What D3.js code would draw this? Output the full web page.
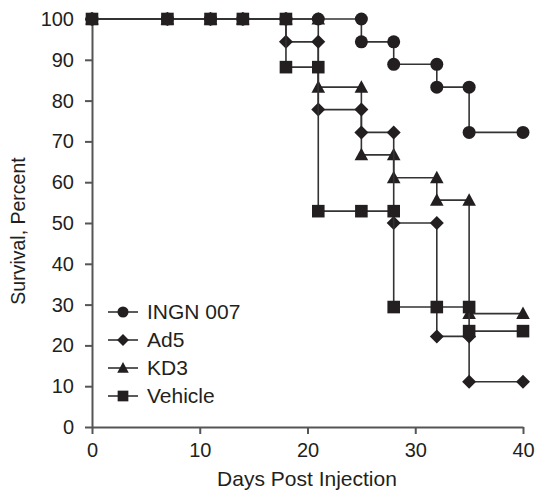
<!DOCTYPE html>
<html lang="en">
<head>
<meta charset="utf-8">
<title>Survival curves</title>
<script src="https://d3js.org/d3.v7.min.js"></script>
<style>
  body { margin: 0; background: #fff; }
  svg { display: block; font-family: "Liberation Sans", Arial, Helvetica, sans-serif; }
  .axis text { font-size: 20px; fill: #231f20; }
  .axis path, .axis line { stroke: #555; stroke-width: 2px; }
</style>
</head>
<body>
<script>
// data (survival in percent at each step point)
const ingnDays = [0, 7, 11, 14, 18, 21, 25, 25, 28, 28, 32, 32, 35, 35, 40];
const ingnSurv = [100, 100, 100, 100, 100, 100, 100, 94.4, 94.4, 88.9, 88.9, 83.3, 83.3, 72.2, 72.2];

const ad5Days = [0, 7, 11, 14, 18, 18, 21, 21, 25, 25, 28, 28, 32, 32, 35, 35, 40];
const ad5Surv = [100, 100, 100, 100, 100, 94.4, 94.4, 77.8, 77.8, 72.2, 72.2, 50, 50, 22.2, 22.2, 11.1, 11.1];

const kd3Days = [0, 7, 11, 14, 18, 21, 21, 25, 25, 28, 28, 32, 32, 35, 35, 40];
const kd3Surv = [100, 100, 100, 100, 100, 100, 83.3, 83.3, 66.7, 66.7, 61.1, 61.1, 55.6, 55.6, 27.8, 27.8];

const vehDays = [0, 7, 11, 14, 18, 18, 21, 21, 25, 28, 28, 32, 35, 35, 40];
const vehSurv = [100, 100, 100, 100, 100, 88.2, 88.2, 52.9, 52.9, 52.9, 29.4, 29.4, 29.4, 23.5, 23.5];

const seriesNames = ["INGN 007", "Ad5", "KD3", "Vehicle"];
const xTicks = [0, 10, 20, 30, 40];
const yTicks = [0, 10, 20, 30, 40, 50, 60, 70, 80, 90, 100];

const w = 536, h = 493;
const svg = d3.select("body").append("svg")
    .attr("width", w)
    .attr("height", h);

const xScale = d3.scaleLinear().domain([0, 40]).range([92, 523]);
const yScale = d3.scaleLinear().domain([0, 100]).range([427, 19]);

// marker shapes
function shapePath(kind) {
    if (kind === "circle") return d3.symbol(d3.symbolCircle, Math.PI * 6.5 * 6.5)();
    if (kind === "square") return "M-6.3,-6.3H6.3V6.3H-6.3Z";
    if (kind === "diamond") return "M0,-7L7,0L0,7L-7,0Z";
    return "M0,-7L6.8,5.5H-6.8Z"; // triangle
}

const series = [
    { name: seriesNames[0], days: ingnDays, surv: ingnSurv, shape: "circle" },
    { name: seriesNames[1], days: ad5Days, surv: ad5Surv, shape: "diamond" },
    { name: seriesNames[2], days: kd3Days, surv: kd3Surv, shape: "triangle" },
    { name: seriesNames[3], days: vehDays, surv: vehSurv, shape: "square" }
];
// bottom to top drawing order
const drawOrder = [2, 1, 0, 3];

// axes
svg.append("g")
    .attr("class", "x axis")
    .attr("transform", `translate(0,${yScale(0)})`)
    .call(d3.axisBottom(xScale).tickValues(xTicks).tickSize(7).tickSizeOuter(0).tickPadding(9));

svg.append("g")
    .attr("class", "y axis")
    .attr("transform", `translate(${xScale(0)},0)`)
    .call(d3.axisLeft(yScale).tickValues(yTicks).tickSize(7).tickSizeOuter(0).tickPadding(11));

const line = d3.line()
    .x(d => xScale(d[0]))
    .y(d => yScale(d[1]));

drawOrder.forEach(i => {
    const s = series[i];
    const pts = s.days.map((d, j) => [d, s.surv[j]]);
    const g = svg.append("g");
    g.append("path")
        .datum(pts)
        .attr("d", line)
        .attr("fill", "none")
        .attr("stroke", "#333")
        .attr("stroke-width", 1.6);
    g.selectAll("path.mk")
        .data(pts)
        .enter()
        .append("path")
        .attr("class", "mk")
        .attr("d", shapePath(s.shape))
        .attr("transform", d => `translate(${xScale(d[0])},${yScale(d[1])})`)
        .attr("fill", "#231f20");
});

// legend
const legend = svg.append("g").attr("transform", "translate(108,312)");
series.forEach((s, i) => {
    const row = legend.append("g").attr("transform", `translate(0,${i * 28})`);
    row.append("line")
        .attr("x1", 0).attr("x2", 30)
        .attr("stroke", "#333").attr("stroke-width", 1.6);
    row.append("path")
        .attr("d", shapePath(s.shape))
        .attr("transform", "translate(15,0) scale(0.85)")
        .attr("fill", "#231f20");
    row.append("text")
        .attr("x", 39)
        .attr("y", 0)
        .attr("dy", "0.35em")
        .attr("font-size", 21)
        .attr("fill", "#231f20")
        .text(s.name);
});

// axis titles
svg.append("text")
    .attr("x", 307)
    .attr("y", 486)
    .attr("text-anchor", "middle")
    .attr("font-size", 21)
    .attr("fill", "#231f20")
    .text("Days Post Injection");

svg.append("text")
    .attr("transform", "translate(25,231) rotate(-90)")
    .attr("text-anchor", "middle")
    .attr("font-size", 19.5)
    .attr("fill", "#231f20")
    .text("Survival, Percent");
</script>
</body>
</html>
